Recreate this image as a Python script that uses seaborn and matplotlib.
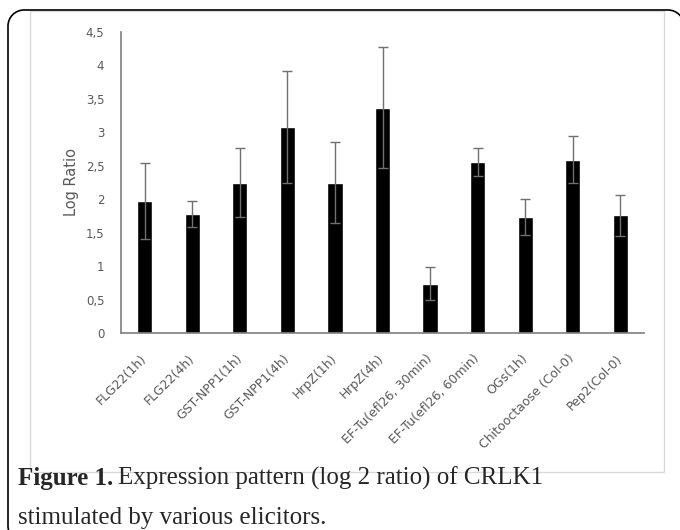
import matplotlib
matplotlib.use("Agg")
import matplotlib.pyplot as plt
import seaborn as sns
import numpy as np
import pandas as pd
from matplotlib.patches import Rectangle, Arc
from matplotlib.lines import Line2D
from matplotlib.ticker import FuncFormatter, MultipleLocator

categories = ["FLG22(1h)", "FLG22(4h)", "GST-NPP1(1h)", "GST-NPP1(4h)", "HrpZ(1h)",
              "HrpZ(4h)", "EF-Tu(efl26, 30min)", "EF-Tu(efl26, 60min)", "OGs(1h)",
              "Chitooctaose (Col-0)", "Pep2(Col-0)"]
log_ratio = [1.97, 1.78, 2.25, 3.08, 2.25, 3.37, 0.74, 2.56, 1.74, 2.59, 1.76]
error = [0.57, 0.20, 0.51, 0.84, 0.61, 0.91, 0.24, 0.21, 0.27, 0.35, 0.31]

sns.set_style("white")
plt.rcParams['font.family'] = ['DejaVu Sans']

W, H = 680, 530
fig = plt.figure(figsize=(W / 100, H / 100), dpi=100)

def fx(px):
    return px / W

def fy(py):
    return 1 - py / H

# background pixel-space axes (y down) for frame, chart border and caption
bg = fig.add_axes([0, 0, 1, 1], zorder=-1)
bg.set_xlim(0, W)
bg.set_ylim(H, 0)
bg.axis("off")

# outer black rounded frame: left edge, top edge, rounded corners
r = 16
L, T, R, B = 8, 10, 684, 542
kw = dict(color="black", linewidth=1.2, solid_capstyle="butt")
bg.add_line(Line2D([L, L], [T + r, B - r], **kw))
bg.add_line(Line2D([L + r, R - r], [T, T], **kw))
bg.add_line(Line2D([R, R], [T + r, B - r], **kw))
for cx, cy, a1, a2 in [(L + r, T + r, 180, 270), (R - r, T + r, 270, 360),
                       (L + r, B - r, 90, 180)]:
    bg.add_patch(Arc((cx, cy), 2 * r, 2 * r, theta1=a1, theta2=a2,
                     color="black", linewidth=1.2))

bg.add_patch(Rectangle((30, 11), 634, 461, fill=False, edgecolor="#d9d9d9",
                       linewidth=1.0))

ax = fig.add_axes([fx(121), fy(333), fx(644) - fx(121), fy(32) - fy(333)])
ax.patch.set_alpha(0)
df = pd.DataFrame({"category": categories, "value": log_ratio})
sns.barplot(data=df, x="category", y="value", color="black", width=0.32,
            saturation=1, ax=ax, errorbar=None)
ax.errorbar(np.arange(len(categories)), log_ratio, yerr=error, fmt="none",
            ecolor="#707070", elinewidth=1.0, capsize=3.6, capthick=1.0, zorder=5)

ax.set_xlim(-0.5, len(categories) - 0.5)
ax.set_ylim(0, 4.5)
ax.yaxis.set_major_locator(MultipleLocator(0.5))
ax.yaxis.set_major_formatter(FuncFormatter(lambda v, p: ("%g" % v).replace(".", ",")))

for side in ["top", "right"]:
    ax.spines[side].set_visible(False)
for side in ["left", "bottom"]:
    ax.spines[side].set_color("#7f7f7f")
    ax.spines[side].set_linewidth(1.2)

ax.tick_params(axis="y", length=0, pad=12, labelsize=8.5, labelcolor="#595959")
ax.tick_params(axis="x", length=0, pad=17, labelsize=9, labelcolor="#595959")
for lab in ax.get_xticklabels():
    lab.set_rotation(45)
    lab.set_ha("right")
    lab.set_va("center")
    lab.set_rotation_mode("anchor")

ax.set_xlabel("")
ax.set_ylabel("Log Ratio", fontsize=10.5, color="#595959", labelpad=5)

# caption
renderer = fig.canvas.get_renderer()
t1 = bg.text(18, 485, "Figure 1.", family="Liberation Serif", weight="bold",
             fontsize=18, va="baseline", ha="left")
bb = t1.get_window_extent(renderer)
x_after = bb.x1 + 5
bg.text(x_after, 485, "Expression pattern (log 2 ratio) of CRLK1",
        family="Liberation Serif", fontsize=18, va="baseline", ha="left")
bg.text(18, 524, "stimulated by various elicitors.", family="Liberation Serif",
        fontsize=18, va="baseline", ha="left")

fig.savefig("out.png", dpi=100)
